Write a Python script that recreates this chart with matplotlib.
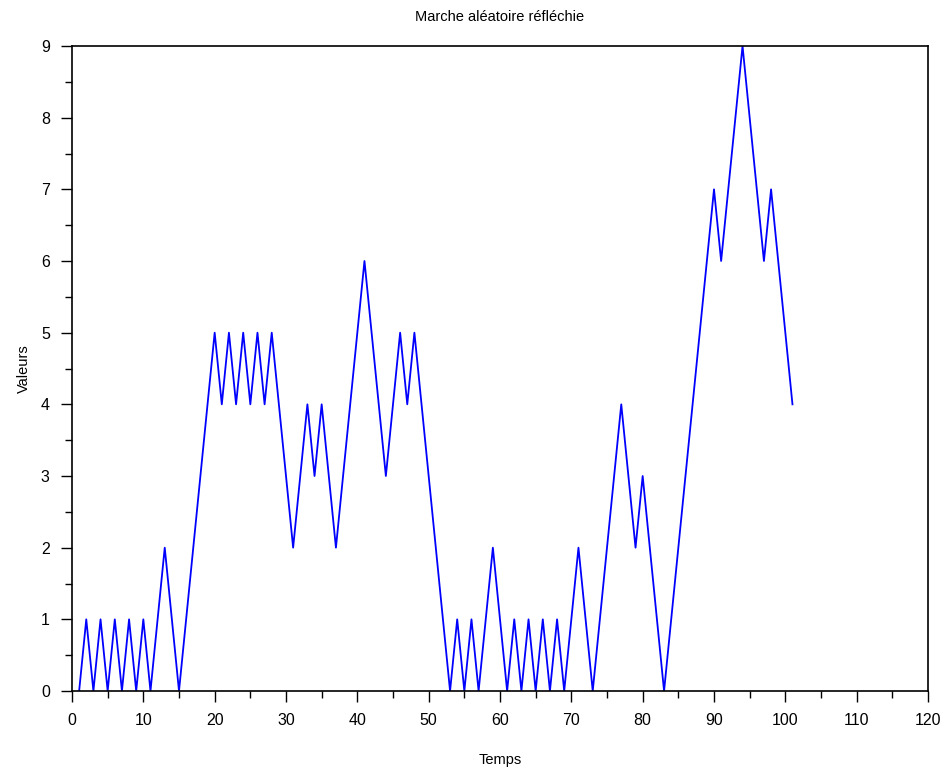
import numpy as np
import matplotlib
matplotlib.use("Agg")
import matplotlib.pyplot as plt
from matplotlib.ticker import MultipleLocator

# reflected random walk, one value per time step
temps = np.arange(1, 102)
valeurs = [
    0, 1, 0, 1, 0, 1, 0, 1, 0, 1,        # t = 1..10
    0, 1, 2, 1, 0, 1, 2, 3, 4, 5,        # t = 11..20
    4, 5, 4, 5, 4, 5, 4, 5, 4, 3,        # t = 21..30
    2, 3, 4, 3, 4, 3, 2, 3, 4, 5,        # t = 31..40
    6, 5, 4, 3, 4, 5, 4, 5, 4, 3,        # t = 41..50
    2, 1, 0, 1, 0, 1, 0, 1, 2, 1,        # t = 51..60
    0, 1, 0, 1, 0, 1, 0, 1, 0, 1,        # t = 61..70
    2, 1, 0, 1, 2, 3, 4, 3, 2, 3,        # t = 71..80
    2, 1, 0, 1, 2, 3, 4, 5, 6, 7,        # t = 81..90
    6, 7, 8, 9, 8, 7, 6, 7, 6, 5,        # t = 91..100
    4,                                   # t = 101
]

plt.rcParams['font.family'] = ['Liberation Sans', 'DejaVu Sans']

fig = plt.figure(figsize=(9.46, 7.69), dpi=100)
ax = fig.add_axes([72/946, 78/769, 856/946, 645/769])

ax.plot(temps, valeurs, color="#0000ff", lw=1.3)

ax.set_xlim(0, 120)
ax.set_ylim(0, 9)
ax.xaxis.set_major_locator(MultipleLocator(10))
ax.xaxis.set_minor_locator(MultipleLocator(5))
ax.yaxis.set_major_locator(MultipleLocator(1))
ax.yaxis.set_minor_locator(MultipleLocator(0.5))
ax.tick_params(which="major", direction="out", length=8, width=1, labelsize=11.5, pad=8)
ax.tick_params(which="minor", direction="out", length=5, width=1)
for s in ax.spines.values():
    s.set_linewidth(1.2)

ax.set_title("Marche aléatoire réfléchie", fontsize=10.5, pad=18)
ax.set_xlabel("Temps", fontsize=10.5, labelpad=18)
ax.set_ylabel("Valeurs", fontsize=10.5, labelpad=7)

fig.savefig("out.png", dpi=100)
